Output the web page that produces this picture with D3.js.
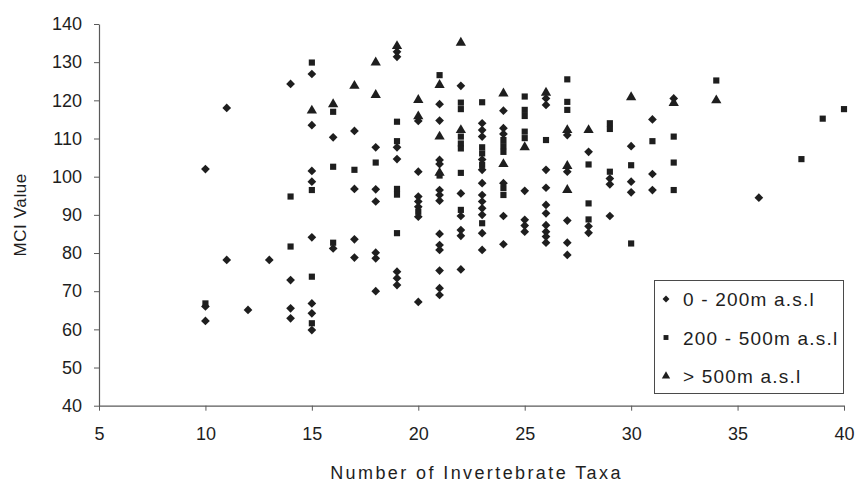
<!DOCTYPE html>
<html>
<head>
<meta charset="utf-8">
<script src="https://cdn.jsdelivr.net/npm/d3@7"></script>
<style>
  html, body { margin: 0; padding: 0; background: #fff; }
  svg { display: block; }
  text { font-family: "Liberation Sans", Arial, sans-serif; fill: #1e1e1e; }
</style>
</head>
<body>
<svg id="chart" width="861" height="491"></svg>
<script>
// MCI value against number of invertebrate taxa, grouped by site altitude.
// Each series is a list of [taxa, MCI] pairs.
const lowland = [ // 0 - 200 m a.s.l
  [10,102],[10,66],[10,62.2],
  [11,118],[11,78.2],
  [12,65.1],
  [13,78.2],
  [14,124.3],[14,72.9],[14,65.5],[14,62.9],
  [15,126.9],[15,113.5],[15,101.5],[15,98.7],[15,84.1],[15,66.8],[15,64.2],[15,59.8],
  [16,110.3],[16,81.2],
  [17,112],[17,96.8],[17,83.6],[17,78.8],
  [18,107.7],[18,96.7],[18,93.5],[18,80.1],[18,78.6],[18,70],
  [19,132.7],[19,131.4],[19,107.7],[19,104.6],[19,75.1],[19,73.4],[19,71.6],
  [20,114.6],[20,101.3],[20,94.8],[20,93.5],[20,92.1],[20,89.5],[20,67.2],
  [21,119],[21,114.7],[21,104.4],[21,103.3],[21,96.5],[21,95.2],[21,93.7],[21,85],[21,82.1],[21,80.8],[21,75.4],[21,70.8],[21,69],
  [22,123.8],[22,95.6],[22,89.7],[22,86],[22,84.5],[22,75.7],
  [23,114],[23,112.2],[23,110.5],[23,104.5],[23,101.8],[23,98.3],[23,95.2],[23,93.5],[23,91.7],[23,90],[23,85.2],[23,80.8],
  [24,117.3],[24,112.7],[24,111.2],[24,98.3],[24,89.7],[24,82.3],
  [25,96.3],[25,88.7],[25,87.2],[25,85.6],
  [26,120.5],[26,118.8],[26,101.8],[26,97.1],[26,92.6],[26,90.4],[26,87.3],[26,85.6],[26,84.3],[26,82.7],
  [27,110.9],[27,101.3],[27,88.5],[27,82.7],[27,79.5],
  [28,106.5],[28,87],[28,85.3],
  [29,99.5],[29,98],[29,89.7],
  [30,108],[30,98.7],[30,95.9],
  [31,115],[31,100.7],[31,96.5],
  [32,120.5],
  [36,94.5]
];
const midland = [ // 200 - 500 m a.s.l
  [10,66.8],
  [14,94.8],[14,81.7],
  [15,129.9],[15,96.5],[15,73.8],[15,61.6],
  [16,117],[16,102.6],[16,82.7],
  [17,101.8],
  [18,103.7],
  [19,114.4],[19,109.3],[19,96.8],[19,95.3],[19,85.2],
  [20,90.8],
  [21,126.6],[21,100.3],
  [22,119.4],[22,117.7],[22,110.5],[22,108.7],[22,107.4],[22,101],[22,91.3],
  [23,119.5],[23,107.7],[23,106.1],[23,103.1],[23,87.8],
  [24,109.6],[24,108],[24,106.5],[24,97],[24,95.2],
  [25,121],[25,117.5],[25,115.9],[25,111.8],[25,110.1],
  [26,109.6],
  [27,125.5],[27,119.6],[27,117.5],
  [28,103.2],[28,93],[28,88.8],
  [29,114],[29,112.5],[29,101.3],
  [30,103],[30,82.5],
  [31,109.3],
  [32,110.5],[32,103.7],[32,96.5],
  [34,125.2],
  [38,104.6],
  [39,115.2],
  [40,117.7]
];
const upland = [ // > 500 m a.s.l
  [15,117.3],
  [16,119],
  [17,123.8],
  [18,129.9],[18,121.4],
  [19,134.2],
  [20,120.1],[20,115.8],
  [21,124],[21,110.5],[21,101],
  [22,135.1],[22,112.2],
  [24,121.8],[24,103.3],
  [25,107.7],
  [26,122],
  [27,112.2],[27,102.8],[27,96.5],
  [28,112.2],
  [30,120.8],
  [32,119.3],
  [34,120]
];

const xTicks = [5, 10, 15, 20, 25, 30, 35, 40];
const yTicks = [40, 50, 60, 70, 80, 90, 100, 110, 120, 130, 140];
const seriesNames = ["0 - 200m a.s.l", "200 - 500m a.s.l", "> 500m a.s.l"];

const svg = d3.select("#chart");
const x = d3.scaleLinear().domain([5, 40]).range([99, 844]);
const y = d3.scaleLinear().domain([40, 140]).range([405.7, 24]);

const ink = "#1e1e1e";

// marker generators: plot markers and the smaller legend keys
const rotations = [45, 0, 0];
const types = [d3.symbolSquare, d3.symbolSquare, d3.symbolTriangle];
const plotSizes = [38, 38, 46];
const keySizes = [24, 24, 30];
const plotShapes = types.map((t, i) => d3.symbol().type(t).size(plotSizes[i]));
const keyShapes = types.map((t, i) => d3.symbol().type(t).size(keySizes[i]));

// axes
const xAxis = svg.append("g")
  .attr("transform", `translate(0,${y(40)})`)
  .call(d3.axisBottom(x).tickValues(xTicks).tickSize(5).tickSizeOuter(0).tickPadding(17));
const yAxis = svg.append("g")
  .attr("transform", `translate(${x(5)},0)`)
  .call(d3.axisLeft(y).tickValues(yTicks).tickSize(5).tickSizeOuter(0).tickPadding(12));

[xAxis, yAxis].forEach(g => {
  g.select(".domain").attr("stroke", "#5a5a5a").attr("stroke-width", 1.2);
  g.selectAll(".tick line").attr("stroke", "#5a5a5a");
  g.selectAll(".tick text")
    .attr("fill", ink)
    .style("font-family", '"Liberation Sans", Arial, sans-serif')
    .style("font-size", "18px");
});

// points
[lowland, midland, upland].forEach((data, i) => {
  svg.append("g").selectAll("path")
    .data(data)
    .join("path")
    .attr("d", plotShapes[i])
    .attr("fill", ink)
    .attr("transform", d => `translate(${x(d[0])},${y(d[1])}) rotate(${rotations[i]})`);
});

// axis titles
svg.append("text")
  .attr("x", (x(5) + x(40)) / 2 + 5)
  .attr("y", 479)
  .attr("text-anchor", "middle")
  .style("font-size", "18px")
  .style("letter-spacing", "2.4px")
  .text("Number of Invertebrate Taxa");

svg.append("text")
  .attr("transform", `translate(26,${(y(40) + y(140)) / 2}) rotate(-90)`)
  .attr("text-anchor", "middle")
  .style("font-size", "17px")
  .style("letter-spacing", "0.6px")
  .text("MCI Value");

// legend
const legend = svg.append("g");
legend.append("rect")
  .attr("x", 654.5).attr("y", 280.5)
  .attr("width", 189).attr("height", 113)
  .attr("fill", "#fff")
  .attr("stroke", "#4a4a4a").attr("stroke-width", 1);
seriesNames.forEach((name, i) => {
  const cy = 299 + i * 38.5;
  legend.append("path")
    .attr("d", keyShapes[i])
    .attr("fill", ink)
    .attr("transform", `translate(666,${cy}) rotate(${rotations[i]})`);
  legend.append("text")
    .attr("x", 683)
    .attr("y", cy + 7)
    .style("font-size", "19px")
    .style("letter-spacing", "1.2px")
    .text(name);
});
</script>
</body>
</html>
